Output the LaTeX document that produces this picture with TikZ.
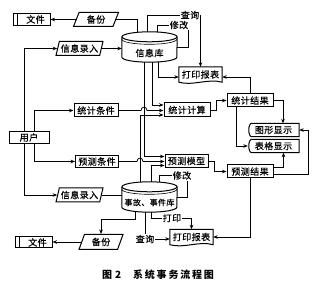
\documentclass[tikz,border=0pt]{standalone}
\usepackage{fontspec}
\setmainfont{Noto Sans CJK SC}
\newfontfamily\boxfont[LetterSpace=5,FakeBold=0.4]{Noto Sans CJK SC}
\usetikzlibrary{arrows.meta,shapes.geometric,calc}
\tikzset{
  conn/.style={line width=0.75pt},
  arr/.style={conn,-{Stealth[length=4.5pt,width=3.6pt]}},
  boxline/.style={line width=1pt},
  txt/.style={font=\boxfont\fontsize{9}{10}\selectfont},
  proc/.style={draw,boxline,txt,minimum height=13pt,inner sep=0pt},
  para/.style={draw,boxline,txt,trapezium,trapezium left angle=70,trapezium right angle=110,
    trapezium stretches=true,minimum height=14pt,inner sep=0pt},
  filebox/.style={draw,boxline,txt,minimum height=12pt,inner sep=0pt},
  plainbox/.style={txt,inner sep=0pt},
  lbl/.style={txt,inner sep=1pt},
}
\newcommand\mycyl[1]{%
  \draw[boxline] ($(#1.north west)+(0,5)$) -- ($(#1.south west)+(0,-5)$)
     arc[start angle=180,end angle=360,x radius=27.5pt,y radius=5pt]
     -- ($(#1.north east)+(0,5)$);
  \draw[boxline] ($(#1.north)+(0,5)$) ellipse[x radius=27.5pt,y radius=5pt];
  \draw[line width=0.6pt] ($(#1.north west)+(0,7.5)$)
     arc[start angle=180,end angle=360,x radius=27.5pt,y radius=5pt];}
\newcommand\mydoc[1]{%
  \draw[boxline] (#1.south west) -- (#1.north west) -- (#1.north east) -- (#1.south east)
     .. controls ($(#1.south east)+(-14,-4)$) and ($(#1.south west)+(14,4)$) .. (#1.south west) -- cycle;}
\newcommand\mydisp[1]{%
  \draw[boxline] ($(#1.north west)+(4,0)$) -- (#1.north east) -- (#1.south east)
     -- ($(#1.south west)+(4,0)$) .. controls (#1.south west) and (#1.north west) .. ($(#1.north west)+(4,0)$) -- cycle;}
\newcommand\myfile[1]{%
  \draw[boxline] ($(#1.north west)+(5,0)$) -- ($(#1.south west)+(5,0)$);}
\begin{document}
\begin{tikzpicture}[x=1pt,y=-1pt]
\useasboundingbox (0,0) rectangle (322,288);

% nodes
\node[filebox,minimum width=37pt] (file1) at (31.5,19.5) {\hspace*{8pt}文件};
\node[para,minimum width=45pt] (bak1) at (96,19.5) {备份};
\node[para,minimum width=47pt] (in1) at (79.5,48.5) {信息录入};
\node[minimum width=55pt,minimum height=30pt,inner sep=0pt] (db1) at (149.5,47) {};
\node[plainbox] (db1t) at (149.5,53) {信息库};
\node[lbl] (cx1) at (190,15) {查询};
\node[lbl] (xg1) at (179,25) {修改};
\node[plainbox,minimum width=43pt,minimum height=15pt] (rpt1) at (200.5,74.5) {打印报表};
\node[proc,minimum width=44pt] (tjcond) at (96,110.5) {统计条件};
\node[proc,minimum width=46pt,minimum height=14pt] (tjcalc) at (187,110) {统计计算};
\node[proc,minimum width=46pt] (tjres) at (250,100.5) {统计结果};
\node[proc,minimum width=40pt,minimum height=12pt] (user) at (29,137.5) {用户};
\node[plainbox,minimum width=51pt,minimum height=13pt] (gx) at (273.5,130) {图形显示};
\node[plainbox,minimum width=51pt,minimum height=13pt] (bg) at (273.5,146) {表格显示};
\node[proc,minimum width=43pt,minimum height=12pt] (yccond) at (97,161.5) {预测条件};
\node[proc,minimum width=43pt] (ycmodel) at (186.5,161) {预测模型};
\node[proc,minimum width=46pt] (ycres) at (250,171.5) {预测结果};
\node[lbl] (xg2) at (182,175.5) {修改};
\node[para,minimum width=47pt] (in2) at (79.5,195) {信息录入};
\node[minimum width=55pt,minimum height=30pt,inner sep=0pt] (db2) at (149.5,197) {};
\node[plainbox,font=\boxfont\fontsize{8}{9}\selectfont] (db2t) at (149.5,202.5) {事故、事件库};
\node[lbl] (dy) at (172,218) {打印};
\node[lbl] (cx2) at (145,239) {查询};
\node[plainbox,minimum width=43pt,minimum height=15pt] (rpt2) at (191.5,237) {打印报表};
\node[para,minimum width=44pt,minimum height=15pt] (bak2) at (101,242) {备份};
\node[filebox,minimum width=37pt,minimum height=11pt] (file2) at (33.5,242.5) {\hspace*{8pt}文件};
\node (cap) at (158,275) {\fontsize{10}{10}\selectfont\bfseries\addfontfeatures{LetterSpace=18}图\hspace{3pt}2\hspace{12pt}系统事务流程图};

% special shapes
\mycyl{db1}
\mycyl{db2}
\mydoc{rpt1}
\mydoc{rpt2}
\mydisp{gx}
\mydisp{bg}
\myfile{file1}
\myfile{file2}

% connectors: top
\draw[arr] (bak1.west) -- (bak1.west -| file1.east);
\draw[conn] ([xshift=-12.5pt]db1.north) |- (bak1.east);
\draw[arr] (in1.east) -- (in1.east -| db1.west);
\draw[conn] ([xshift=-2pt]db1.north) |- (cx1.west);
\draw[arr] (cx1.east) -| (rpt1.north);
\draw[conn] ([xshift=7.5pt]db1.north) |- (xg1.west);
\draw[conn] ([xshift=-1pt]xg1.south east) |- (db1.east);
\draw[arr] ([xshift=8.5pt]db1.south) |- ([yshift=-2.5pt]rpt1.west);
\draw[arr] (tjres.north) |- ([yshift=-2.5pt]rpt1.east);

% user
\draw[arr] ([xshift=-5pt]user.north) |- (in1.west);
\draw[arr] ([xshift=-5pt]user.south) |- (in2.west);
\draw[arr] ([xshift=5pt]user.north) |- (tjcond.west);
\draw[arr] ([xshift=5pt]user.south) |- (yccond.west);

% into calculation / model
\draw[arr] ([xshift=2.5pt]db1.south) |- ([yshift=5pt]tjcalc.west);
\draw[arr] ([xshift=-5.5pt]db1.south) |- ([yshift=4.5pt]ycmodel.west);
\draw[arr] ([xshift=-9.5pt]db2.north) |- ([yshift=-5pt]tjcalc.west);
\draw[arr] ([xshift=1.5pt]db2.north) |- ([yshift=-4.5pt]ycmodel.west);
\draw[arr] (tjcond.east) -- (141,110.5) .. controls (141,106) and (147,106) .. (147,110.5)
   -- (tjcond.east -| tjcalc.west);
\draw[arr] (yccond.east) -- (137,161.5) .. controls (137,157) and (143,157) .. (143,161.5)
   -- (yccond.east -| ycmodel.west);

% results
\draw[arr] (tjcalc.east) -- ++(6,0) |- (tjres.west);
\draw[arr] (ycmodel.east) -- ++(6,0) |- (ycres.west);
\draw[arr] (tjres.east) -| ([xshift=9.5pt]gx.north);
\draw[arr] ([xshift=-14pt]tjres.south) |- (bg.west);
\draw[arr] ([yshift=4pt]ycres.east) -| ([xshift=10pt]bg.south);
\draw[arr] ([yshift=-2.5pt]ycres.east) -- ++(35,0) |- (gx.east);
\draw[arr] (ycres.south) |- (rpt2.east);

% bottom
\draw[conn] ([xshift=10pt]db2.north) |- (xg2.west);
\draw[conn] ([xshift=-5pt]xg2.south east) |- (db2.east);
\draw[conn] (in2.east) -- (in2.east -| db2.west);
\draw[conn] ([xshift=1.5pt]db2.south) |- (dy.west);
\draw[arr] (dy.east) -| (rpt2.north);
\draw[conn] ([xshift=-4.5pt]db2.south) -- (cx2.north);
\draw[arr] (cx2.east) -- (cx2.east -| rpt2.west);
\draw[arr] ([xshift=-14.5pt,yshift=1pt]db2.south) -- ++(0,8) -| (bak2.north);
\draw[arr] (bak2.west) -- (bak2.west -| file2.east);
\end{tikzpicture}
\end{document}
